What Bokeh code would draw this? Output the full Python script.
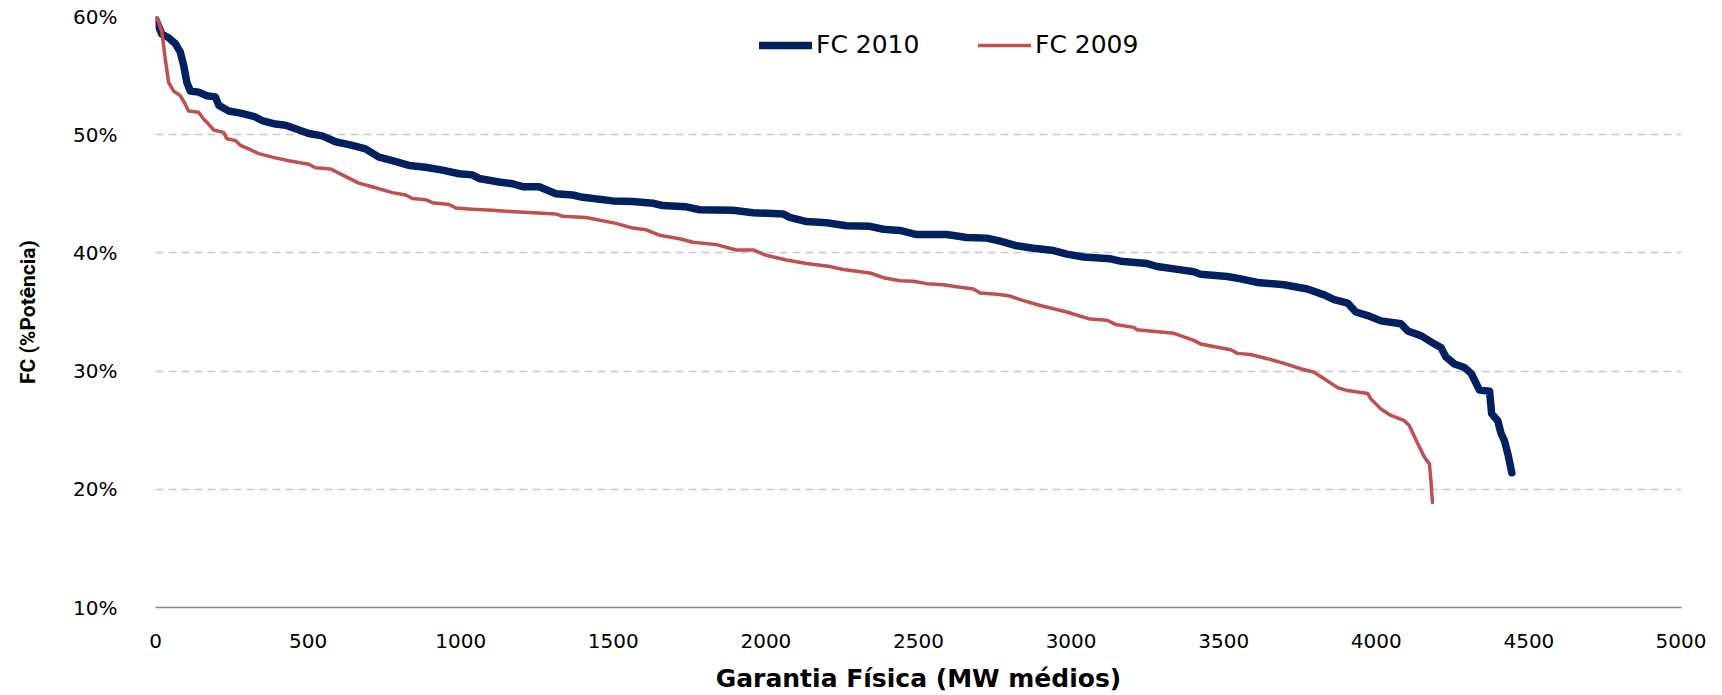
from bokeh.plotting import figure
from bokeh.models import (FixedTicker, PrintfTickFormatter, Legend, LegendItem,
                          Range1d)
from bokeh.embed import file_html
from bokeh.resources import INLINE

# ---- data ----
fc2010_mw = [0, 21, 43, 65, 81, 92, 103, 114, 141, 168, 196, 207, 240, 283, 327, 349,
             393, 426, 459, 502, 546, 590, 645, 688, 732, 776, 831, 885, 940, 995,
             1038, 1060, 1126, 1170, 1203, 1257, 1312, 1367, 1400, 1498, 1564, 1630,
             1662, 1739, 1783, 1892, 1958, 2056, 2078, 2133, 2199, 2264, 2341, 2385,
             2439, 2494, 2593, 2658, 2724, 2768, 2822, 2877, 2943, 2986, 3041, 3129,
             3162, 3249, 3282, 3337, 3402, 3424, 3512, 3556, 3610, 3698, 3774, 3829,
             3862, 3906, 3933, 3972, 4015, 4081, 4103, 4146, 4190, 4212, 4228, 4256,
             4289, 4311, 4338, 4371, 4378, 4398, 4409, 4420, 4431, 4444]
fc2010_pct = [59.8, 58.5, 58.2, 57.7, 57.0, 55.9, 54.4, 53.7, 53.6, 53.3, 53.2, 52.5,
              52.0, 51.8, 51.5, 51.2, 50.9, 50.8, 50.5, 50.1, 49.9, 49.4, 49.1, 48.8,
              48.1, 47.8, 47.4, 47.25, 47.0, 46.7, 46.6, 46.3, 46.0, 45.85, 45.6, 45.6,
              45.0, 44.9, 44.7, 44.4, 44.35, 44.2, 44.0, 43.9, 43.65, 43.6, 43.4, 43.3,
              43.0, 42.65, 42.55, 42.3, 42.25, 42.0, 41.9, 41.55, 41.55, 41.3, 41.25,
              41.0, 40.6, 40.4, 40.2, 39.9, 39.65, 39.5, 39.3, 39.1, 38.85, 38.65, 38.4,
              38.2, 38.0, 37.8, 37.5, 37.3, 36.95, 36.45, 36.05, 35.75, 35.0, 34.7,
              34.25, 34.0, 33.4, 33.0, 32.3, 32.0, 31.2, 30.6, 30.3, 29.8, 28.4, 28.3,
              26.4, 25.8, 24.7, 24.1, 23.0, 21.4]

fc2009_mw = [5, 21, 32, 43, 59, 81, 97, 108, 141, 158, 174, 190, 223, 234, 262, 278,
             305, 338, 382, 437, 502, 524, 574, 612, 666, 710, 776, 820, 842, 885, 907,
             962, 984, 1038, 1104, 1192, 1312, 1334, 1411, 1509, 1564, 1608, 1651, 1717,
             1761, 1838, 1903, 1958, 2001, 2067, 2133, 2210, 2253, 2341, 2385, 2439,
             2483, 2527, 2582, 2636, 2680, 2702, 2757, 2800, 2833, 2899, 2986, 3062,
             3118, 3145, 3205, 3216, 3293, 3337, 3402, 3424, 3523, 3545, 3588, 3643,
             3698, 3752, 3796, 3829, 3873, 3906, 3972, 3982, 4015, 4048, 4092, 4108,
             4136, 4158, 4174, 4179, 4184]
fc2009_pct = [59.9, 58.7, 56.4, 54.4, 53.7, 53.3, 52.6, 52.0, 51.9, 51.3, 50.9, 50.4,
              50.2, 49.65, 49.5, 49.1, 48.8, 48.4, 48.1, 47.8, 47.5, 47.2, 47.1, 46.6,
              45.9, 45.6, 45.1, 44.9, 44.6, 44.5, 44.25, 44.1, 43.8, 43.7, 43.6, 43.45,
              43.3, 43.1, 43.0, 42.5, 42.1, 41.95, 41.5, 41.2, 40.9, 40.7, 40.25, 40.25,
              39.8, 39.4, 39.1, 38.85, 38.6, 38.3, 37.9, 37.65, 37.6, 37.4, 37.3, 37.1,
              36.95, 36.6, 36.5, 36.35, 36.05, 35.55, 35.0, 34.4, 34.3, 33.95, 33.7,
              33.5, 33.3, 33.2, 32.6, 32.3, 31.8, 31.5, 31.4, 31.05, 30.65, 30.2, 29.9,
              29.35, 28.6, 28.35, 28.1, 27.65, 26.8, 26.25, 25.8, 25.4, 23.85, 22.7,
              22.15, 20.75, 18.9]

x_ticks = [0, 500, 1000, 1500, 2000, 2500, 3000, 3500, 4000, 4500, 5000]
y_ticks = [10, 20, 30, 40, 50, 60]
series_names = ["FC 2010", "FC 2009"]
x_title = "Garantia Física (MW médios)"
y_title = "FC (%Potência)"

# ---- figure ----
W, H = 1706, 695
TOP, BOTTOM, LEFT, RIGHT = 16, 86, 155, 25
p = figure(width=W, height=H, output_backend="svg", toolbar_location=None,
           x_range=Range1d(0, 5000), y_range=Range1d(10, 60),
           min_border_left=LEFT, min_border_right=RIGHT, min_border_top=TOP,
           min_border_bottom=BOTTOM)
p.outline_line_color = None
p.background_fill_color = "white"
p.border_fill_color = "white"

blue = p.line(fc2010_mw, fc2010_pct, line_color="#002060", line_width=7.5,
              line_join="round", line_cap="round")
red = p.line(fc2009_mw, fc2009_pct, line_color="#C0504D", line_width=3.5,
             line_join="round", line_cap="round")

# axes
p.xaxis.ticker = FixedTicker(ticks=x_ticks)
p.yaxis.ticker = FixedTicker(ticks=y_ticks)
p.yaxis.formatter = PrintfTickFormatter(format="%d%%")
p.xaxis.axis_line_color = "#868686"
p.xaxis.axis_line_width = 1.5
p.xaxis.major_tick_line_color = None
p.xaxis.minor_tick_line_color = None
p.yaxis.axis_line_color = None
p.yaxis.major_tick_line_color = None
p.yaxis.minor_tick_line_color = None

for ax in (p.xaxis[0], p.yaxis[0]):
    ax.major_label_text_font = "DejaVu Sans"
    ax.major_label_text_font_size = "20px"
    ax.major_label_text_color = "black"
    ax.axis_label_text_font_style = "bold"
    ax.axis_label_text_color = "black"

p.xaxis.major_label_standoff = 20
p.yaxis.major_label_standoff = 32
p.xaxis.axis_label = x_title
p.xaxis.axis_label_text_font = "DejaVu Sans"
p.xaxis.axis_label_text_font_size = "25px"
p.xaxis.axis_label_standoff = 13
p.yaxis.axis_label = y_title
p.yaxis.axis_label_text_font = "Roboto"
p.yaxis.axis_label_text_font_size = "21px"
p.yaxis.axis_label_standoff = 30

# grid
p.xgrid.grid_line_color = None
p.ygrid.ticker = FixedTicker(ticks=y_ticks[1:])
p.ygrid.grid_line_color = "#C8C8C8"
p.ygrid.grid_line_width = 1.5
p.ygrid.grid_line_dash = "8 5"

# legends (one item each, positioned like the reference)
frame_h = H - TOP - BOTTOM
for rend, name, xpos in ((blue, series_names[0], 604), (red, series_names[1], 823)):
    leg = Legend(items=[LegendItem(label=name, renderers=[rend])],
                 location=(xpos, frame_h - 45), orientation="horizontal",
                 padding=0, margin=0, spacing=0, label_standoff=4,
                 glyph_width=53, glyph_height=24, label_height=24,
                 label_text_font="DejaVu Sans", label_text_font_size="25px",
                 label_text_color="black",
                 border_line_color=None, background_fill_alpha=0)
    p.add_layout(leg, "center")

open("out.html", "w").write(file_html(p, INLINE))
